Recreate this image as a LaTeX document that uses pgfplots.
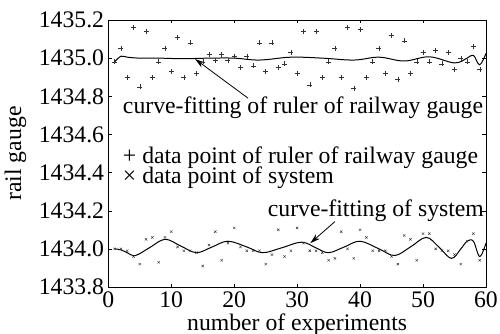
\documentclass[border=0pt]{standalone}
\usepackage{pgfplots}
\pgfplotsset{compat=1.18}
\usepackage{fontspec}
\setmainfont{Liberation Serif}
\usetikzlibrary{arrows.meta}
\newcommand{\bigfont}{\fontsize{23.8}{26}\selectfont}
\newcommand{\legfont}{\fontsize{23.8}{20.6}\selectfont\lineskiplimit=-30pt\relax}
\begin{document}
\begin{tikzpicture}[font=\bigfont]
\path[use as bounding box] (-108.3bp,-47bp) rectangle (391.7bp,287bp);
\begin{axis}[
  scale only axis,
  width=377.7bp, height=267bp,
  xmin=0, xmax=60, ymin=1433.8, ymax=1435.2,
  xtick={0,10,...,60},
  ytick={1433.8,1434.0,1434.2,1434.4,1434.6,1434.8,1435.0,1435.2},
  yticklabel style={inner sep=0pt, xshift=-4bp, /pgf/number format/.cd,fixed,precision=1,zerofill,1000 sep={}},
  xticklabel style={inner sep=0pt, yshift=-5bp},
  /pgf/number format/assume math mode=true,
  tick label style={font=\bigfont},
  tick align=inside, tick pos=both,
  major tick length=3.5bp,
  tick style={black, line width=0.4pt},
  axis line style={line width=0.8pt},
  xlabel={number of experiments},
  ylabel={rail gauge},
  every axis x label/.style={at={(axis description cs:0.5,-0.14)}, anchor=center, font=\bigfont},
  every axis y label/.style={at={(axis description cs:-0.246,0.5)}, anchor=center, rotate=90, font=\bigfont},
  clip=false,
]
% data points of ruler of railway gauge
\addplot[only marks, mark=+, mark size=2.5pt, black!80, mark options={line width=0.4pt}] coordinates {
(1,1434.98)(2,1435.05)(3,1434.90)(4,1435.16)(5,1434.85)(6,1435.14)(7,1434.90)(8,1434.98)(9,1435.05)(10,1434.93)
(11,1435.11)(12,1434.90)(13,1435.08)(14,1434.92)(15,1434.98)(16,1435.02)(17,1434.99)(18,1435.02)(19,1434.99)(20,1435.01)
(21,1434.95)(22,1435.01)(23,1434.96)(24,1435.08)(25,1434.93)(26,1435.08)(27,1434.95)(28,1434.97)(29,1435.03)(30,1434.92)
(31,1435.14)(32,1434.86)(33,1435.14)(34,1434.90)(35,1434.98)(36,1435.05)(37,1434.90)(38,1435.16)(39,1434.84)(40,1435.15)
(41,1434.90)(42,1434.98)(43,1435.05)(44,1434.92)(45,1435.12)(46,1434.89)(47,1435.09)(48,1434.92)(49,1434.98)(50,1435.03)
(51,1434.98)(52,1435.04)(53,1434.97)(54,1435.03)(55,1434.94)(56,1435.00)(57,1434.98)(58,1435.06)(59,1434.94)
};
% data points of system
\addplot[only marks, mark=x, mark size=1.7pt, black!80, mark options={line width=0.4pt}] coordinates {
(1,1434.00)(2,1434.00)(3,1433.99)(4,1433.96)(5,1433.92)(6,1434.05)(7,1434.06)(8,1433.93)(9,1434.06)(10,1434.09)
(11,1434.01)(12,1433.99)(13,1433.99)(14,1433.98)(15,1433.91)(16,1434.02)(17,1434.09)(18,1433.94)(19,1434.03)(20,1434.11)
(21,1434.01)(22,1433.99)(23,1433.99)(24,1433.99)(25,1433.92)(26,1433.97)(27,1434.10)(28,1433.96)(29,1433.99)(30,1434.11)
(31,1434.03)(32,1433.99)(33,1433.99)(34,1433.98)(35,1433.94)(36,1433.95)(37,1434.09)(38,1434.00)(39,1433.95)(40,1434.10)
(41,1434.06)(42,1433.99)(43,1433.99)(44,1433.99)(45,1433.96)(46,1433.92)(47,1434.07)(48,1434.05)(49,1433.94)(50,1434.08)
(51,1434.08)(52,1434.00)(53,1433.99)(54,1433.99)(55,1433.97)(56,1433.92)(57,1434.04)(58,1434.08)(59,1433.94)
};
% curve-fitting of ruler
\addplot[black, line width=1pt, smooth, tension=0.6] coordinates {
(1,1434.98)(2,1435.01)(3,1435.005)(5,1435.0)(8,1435.0)(12,1434.997)(16,1435.0)(20,1435.0)(24,1434.99)(29,1435.005)
(34,1435.0)(39,1434.99)(43,1435.005)(47,1434.985)(51,1435.007)(55,1434.975)(57,1435.0)(58,1435.015)(59,1434.965)(60,1435.025)
};
% curve-fitting of system
\addplot[black, line width=1pt, smooth, tension=0.6] coordinates {
(1,1434.0)(2,1433.995)(3,1433.98)(4.3,1433.965)(6.5,1434.005)(9,1434.05)(11.5,1434.015)(14,1433.98)(16.5,1434.01)(19,1434.04)
(22,1434.01)(24.5,1433.98)(27.5,1434.005)(30.7,1434.035)(33,1434.005)(35,1433.98)(37.5,1434.01)(40,1434.04)(43,1434.0)
(45.5,1433.965)(48,1434.01)(50.5,1434.06)(52.5,1434.01)(54.5,1433.95)(56,1434.0)(57,1434.04)(58,1434.04)(59,1433.96)(60,1434.03)
};
\draw[-{Stealth[length=10bp,width=6bp]}, line width=0.8pt] (axis cs:22.2,1434.79) -- (axis cs:13.8,1434.995);
\draw[-{Stealth[length=10bp,width=6bp]}, line width=0.8pt] (axis cs:36.0,1434.143) -- (axis cs:32.1,1434.03);
\node[anchor=west, inner sep=0pt] at (axis cs:2.3,1434.738) {curve-fitting of ruler of railway gauge};
\node[anchor=north west, inner sep=0pt, align=left, font=\legfont] at (axis cs:2.3,1434.537) {+ data point of ruler of railway gauge\\× data point of system};
\node[anchor=east, inner sep=0pt] at (axis cs:59.7,1434.20) {curve-fitting of system};
\end{axis}
\end{tikzpicture}
\end{document}
